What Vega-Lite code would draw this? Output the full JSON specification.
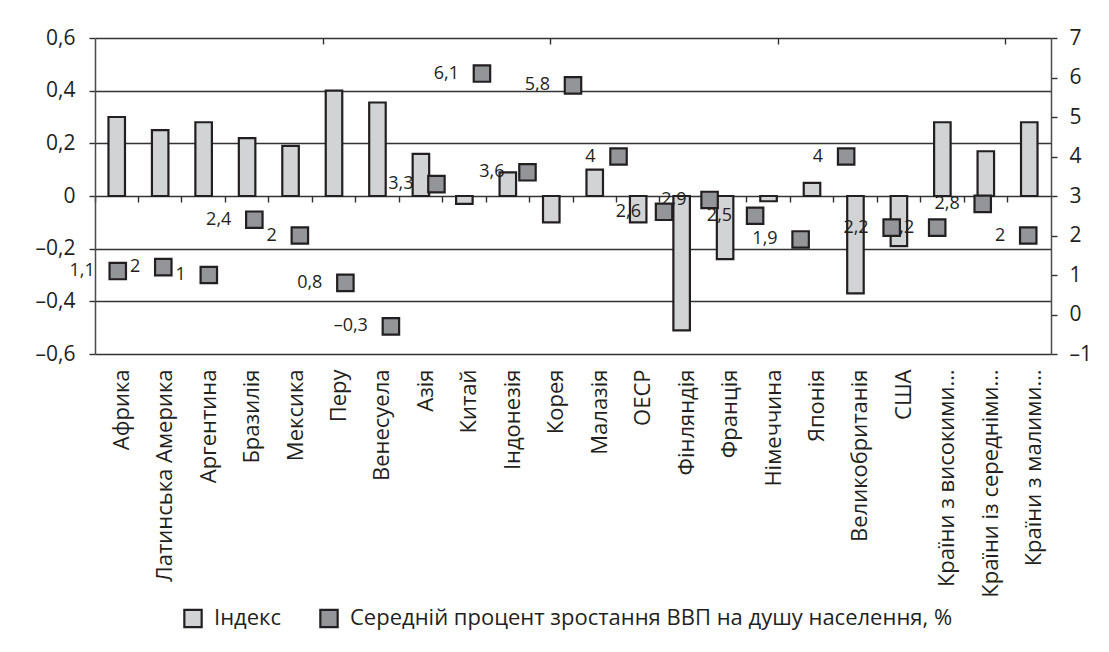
{
  "$schema": "https://vega.github.io/schema/vega-lite/v6.json",
  "width": 956,
  "height": 316,
  "autosize": {"type": "none"},
  "padding": {"left": 95, "top": 38, "right": 58, "bottom": 298},
  "background": "white",
  "config": {
    "font": "Open Sans",
    "locale": {"number": {"decimal": ",", "thousands": "\u00a0", "grouping": [3], "currency": ["", ""], "minus": "\u2013"}},
    "view": {"stroke": null},
    "axis": {"labelColor": "#231f20", "tickColor": "#2f2f2f", "domainColor": "#4a4a4a", "tickWidth": 1.4, "domainWidth": 1.5, "title": null}
  },
  "datasets": {
    "bars": [
      {"country": "Африка", "index": 0.30, "series": "Індекс"},
      {"country": "Латинська Америка", "index": 0.25, "series": "Індекс"},
      {"country": "Аргентина", "index": 0.28, "series": "Індекс"},
      {"country": "Бразилія", "index": 0.22, "series": "Індекс"},
      {"country": "Мексика", "index": 0.19, "series": "Індекс"},
      {"country": "Перу", "index": 0.40, "series": "Індекс"},
      {"country": "Венесуела", "index": 0.355, "series": "Індекс"},
      {"country": "Азія", "index": 0.16, "series": "Індекс"},
      {"country": "Китай", "index": -0.03, "series": "Індекс"},
      {"country": "Індонезія", "index": 0.09, "series": "Індекс"},
      {"country": "Корея", "index": -0.10, "series": "Індекс"},
      {"country": "Малазія", "index": 0.10, "series": "Індекс"},
      {"country": "ОЕСР", "index": -0.10, "series": "Індекс"},
      {"country": "Фінляндія", "index": -0.51, "series": "Індекс"},
      {"country": "Франція", "index": -0.24, "series": "Індекс"},
      {"country": "Німеччина", "index": -0.02, "series": "Індекс"},
      {"country": "Японія", "index": 0.05, "series": "Індекс"},
      {"country": "Великобританія", "index": -0.37, "series": "Індекс"},
      {"country": "США", "index": -0.19, "series": "Індекс"},
      {"country": "Країни з високими…", "index": 0.28, "series": "Індекс"},
      {"country": "Країни із середніми…", "index": 0.17, "series": "Індекс"},
      {"country": "Країни з малими…", "index": 0.28, "series": "Індекс"}
    ],
    "points": [
      {"n": 1, "gdp": 1.1, "label": "1,1", "series": "Середній процент зростання ВВП на душу населення, %"},
      {"n": 2, "gdp": 1.2, "label": "2", "series": "Середній процент зростання ВВП на душу населення, %"},
      {"n": 3, "gdp": 1.0, "label": "1", "series": "Середній процент зростання ВВП на душу населення, %"},
      {"n": 4, "gdp": 2.4, "label": "2,4", "series": "Середній процент зростання ВВП на душу населення, %"},
      {"n": 5, "gdp": 2.0, "label": "2", "series": "Середній процент зростання ВВП на душу населення, %"},
      {"n": 6, "gdp": 0.8, "label": "0,8", "series": "Середній процент зростання ВВП на душу населення, %"},
      {"n": 7, "gdp": -0.3, "label": "–0,3", "series": "Середній процент зростання ВВП на душу населення, %"},
      {"n": 8, "gdp": 3.3, "label": "3,3", "series": "Середній процент зростання ВВП на душу населення, %"},
      {"n": 9, "gdp": 6.1, "label": "6,1", "series": "Середній процент зростання ВВП на душу населення, %"},
      {"n": 10, "gdp": 3.6, "label": "3,6", "series": "Середній процент зростання ВВП на душу населення, %"},
      {"n": 11, "gdp": 5.8, "label": "5,8", "series": "Середній процент зростання ВВП на душу населення, %"},
      {"n": 12, "gdp": 4.0, "label": "4", "series": "Середній процент зростання ВВП на душу населення, %"},
      {"n": 13, "gdp": 2.6, "label": "2,6", "series": "Середній процент зростання ВВП на душу населення, %"},
      {"n": 14, "gdp": 2.9, "label": "2,9", "series": "Середній процент зростання ВВП на душу населення, %"},
      {"n": 15, "gdp": 2.5, "label": "2,5", "series": "Середній процент зростання ВВП на душу населення, %"},
      {"n": 16, "gdp": 1.9, "label": "1,9", "series": "Середній процент зростання ВВП на душу населення, %"},
      {"n": 17, "gdp": 4.0, "label": "4", "series": "Середній процент зростання ВВП на душу населення, %"},
      {"n": 18, "gdp": 2.2, "label": "2,2", "series": "Середній процент зростання ВВП на душу населення, %"},
      {"n": 19, "gdp": 2.2, "label": "2,2", "series": "Середній процент зростання ВВП на душу населення, %"},
      {"n": 20, "gdp": 2.8, "label": "2,8", "series": "Середній процент зростання ВВП на душу населення, %"},
      {"n": 21, "gdp": 2.0, "label": "2", "series": "Середній процент зростання ВВП на душу населення, %"}
    ]
  },
  "layer": [
    {
      "data": {"name": "bars"},
      "mark": {"type": "bar", "width": {"band": 0.38}, "stroke": "#231f20", "strokeWidth": 2.2},
      "encoding": {
        "x": {
          "field": "country", "type": "nominal", "sort": null,
          "scale": {"paddingInner": 0, "paddingOuter": 0},
          "axis": {"orient": "bottom", "offset": -158, "domain": false, "ticks": true, "tickSize": 6, "bandPosition": 0,
                   "labelAngle": -90, "labelPadding": 167, "labelOffset": 5, "labelFontSize": 22, "labelLimit": 500, "grid": false}
        },
        "y": {
          "field": "index", "type": "quantitative",
          "scale": {"domain": [-0.6, 0.6], "nice": false, "zero": false},
          "axis": {"orient": "left", "values": [-0.6, -0.4, -0.2, 0, 0.2, 0.4, 0.6], "format": ".1~f",
                   "grid": true, "gridColor": "#333333", "gridWidth": 1.4, "gridOpacity": 1,
                   "tickSize": 6, "labelPadding": 14, "labelFontSize": 21}
        },
        "fill": {
          "field": "series", "type": "nominal",
          "scale": {"domain": ["Індекс", "Середній процент зростання ВВП на душу населення, %"], "range": ["#d1d3d4", "#939598"]},
          "legend": {"orient": "none", "legendX": 87, "legendY": 569, "direction": "horizontal", "title": null,
                     "symbolType": "square", "symbolSize": 300, "symbolStrokeColor": "#231f20", "symbolStrokeWidth": 2.2,
                     "labelFontSize": 22, "labelColor": "#231f20", "labelOffset": 10, "columnPadding": 34, "padding": 0, "labelLimit": 900}
        }
      }
    },
    {
      "data": {"name": "points"},
      "encoding": {
        "x": {
          "field": "n", "type": "ordinal",
          "scale": {"paddingInner": 0, "paddingOuter": 0},
          "axis": {"orient": "top", "offset": -6, "domain": false, "labels": false, "ticks": true, "tickSize": 6, "tickOffset": -22.76,
                   "values": [6, 11, 16, 21], "grid": false}
        },
        "y": {
          "field": "gdp", "type": "quantitative",
          "scale": {"domain": [-1, 7], "nice": false, "zero": false},
          "axis": {"orient": "right", "values": [-1, 0, 1, 2, 3, 4, 5, 6, 7], "format": "d", "grid": false,
                   "tickSize": 6, "labelPadding": 12, "labelFontSize": 21}
        }
      },
      "layer": [
        {
          "mark": {"type": "text", "align": "right", "baseline": "middle", "dx": -23, "fontSize": 18, "color": "#231f20"},
          "encoding": {"text": {"field": "label", "type": "nominal"}}
        },
        {
          "mark": {"type": "square", "size": 270, "stroke": "#231f20", "strokeWidth": 2.2, "opacity": 1, "filled": true},
          "encoding": {"fill": {"field": "series", "type": "nominal"}}
        }
      ]
    }
  ],
  "resolve": {"scale": {"x": "independent", "y": "independent"}, "axis": {"x": "independent", "y": "independent"}}
}
